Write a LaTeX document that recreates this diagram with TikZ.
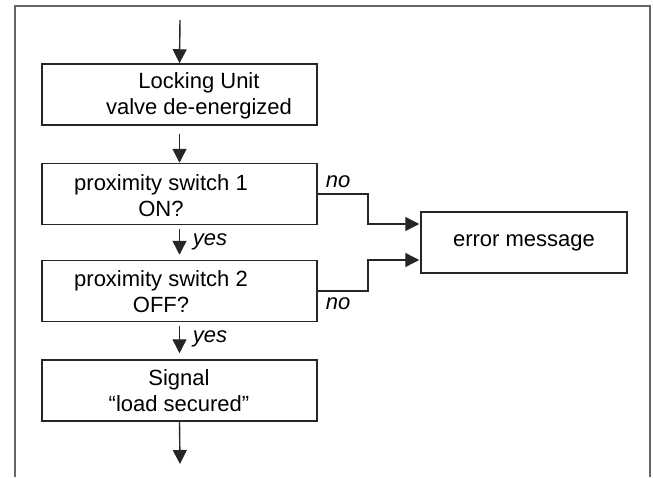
\documentclass[tikz,border=0pt]{standalone}
\usepackage{fontspec}
\setmainfont{Liberation Sans}
\usetikzlibrary{arrows.meta}
\begin{document}
\begin{tikzpicture}[x=1pt,y=-1pt]
\tikzset{
  box/.style={draw=black!85,line width=1.5pt,minimum width=275pt,minimum height=61pt,inner sep=0pt},
  txt/.style={align=center,font=\fontsize{22}{26}\selectfont,inner sep=0pt},
  lbl/.style={font=\fontsize{22}{26}\selectfont\itshape,inner sep=0pt},
  tip/.tip={Triangle[length=14pt,width=14pt]},
  arr/.style={draw=black!85,line width=1.4pt,-tip},
  frameline/.style={draw=black!60,line width=2.2pt}}
\useasboundingbox (0,0) rectangle (653,477);
\draw[frameline] (15,477) -- (15,6) -- (650,6) -- (650,477);

% boxes
\node[box] (b1) at (179.5,94.5) {};
\node[box] (b2) at (179.5,194) {};
\node[box] (b3) at (179.5,291) {};
\node[box] (b4) at (179.5,390.5) {};
\node[box,minimum width=206pt] (err) at (524,242.5) {};

% texts
\node[txt] (t1) at (199,96) {Locking Unit\\valve de-energized};
\node[txt] (t2) at (161,196) {proximity switch 1\\ON?};
\node[txt] (t3) at (161,292) {proximity switch 2\\OFF?};
\node[txt] (t4) at (179,391) {Signal\\“load secured”};
\node[txt] (t5) at (524,243) {error message};

% labels
\node[lbl] (y1) at (210,242) {yes};
\node[lbl] (y2) at (210,339) {yes};
\node[lbl] (n1) at (338,182) {no};
\node[lbl] (n2) at (338,304) {no};

% coordinates
\coordinate (s0) at (180,20);
\coordinate (s5) at (180,464);
\coordinate (k) at (368,0);
\coordinate (e1) at ([yshift=18.5pt,xshift=-1pt]err.west);
\coordinate (e2) at ([yshift=-17.5pt,xshift=-1pt]err.west);

% vertical arrows
\draw[arr] (s0) -- (b1.north);
\draw[arr] ([yshift=-8pt]b1.south) -- (b2.north);
\draw[arr] ([yshift=-4pt]b2.south) -- ([yshift=5pt]b3.north);
\draw[arr] ([yshift=-4pt]b3.south) -- ([yshift=6pt]b4.north);
\draw[arr] (b4.south) -- (s5);

% no branches
\draw[arr] (b2.east) -| (k|-e1) -- (e1);
\draw[arr] (b3.east) -| (k|-e2) -- (e2);
\end{tikzpicture}
\end{document}
